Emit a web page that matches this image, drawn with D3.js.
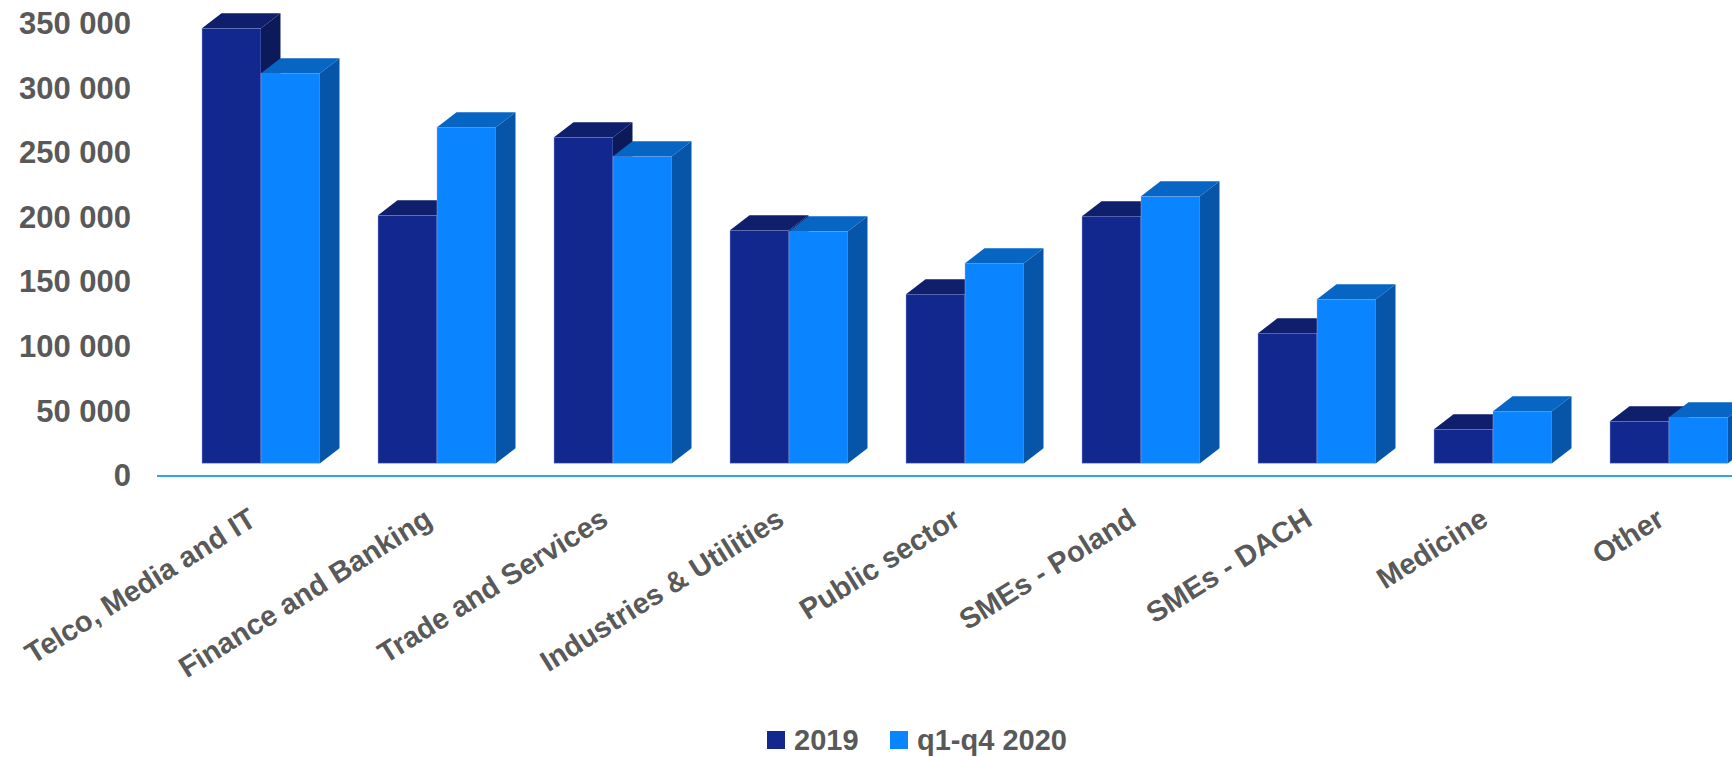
<!DOCTYPE html>
<html>
<head>
<meta charset="utf-8">
<script src="https://cdn.jsdelivr.net/npm/d3@7"></script>
<style>
  html, body { margin: 0; padding: 0; background: #ffffff; }
  svg { display: block; }
  text { font-family: "Liberation Sans", Arial, sans-serif; font-weight: bold; fill: #595959; }
</style>
</head>
<body>
<svg id="chart" width="1732" height="757"></svg>
<script>
// Revenue by sector, in PLN thousand
const categories = [
  "Telco, Media and IT", "Finance and Banking", "Trade and Services",
  "Industries & Utilities", "Public sector", "SMEs - Poland",
  "SMEs - DACH", "Medicine", "Other"
];
const seriesNames = ["2019", "q1-q4 2020"];
const values2019 = [336800, 192000, 252400, 180400, 130900, 191300, 100700, 26300, 32500];
const values2020 = [302000, 260200, 237700, 179600, 154900, 206700, 127000, 40300, 35600];
const yTicks = [0, 50000, 100000, 150000, 200000, 250000, 300000, 350000];

const faceColors = {
  "2019":       { front: "#13288e", top: "#0f1f6b", side: "#0c1a5a" },
  "q1-q4 2020": { front: "#0a84ff", top: "#0766c4", side: "#0655a8" }
};

const svg = d3.select("#chart");

// Scales
const y = d3.scaleLinear().domain([0, 350000]).range([475, 23]);
const x0 = d3.scaleBand().domain(categories).range([202, 1728]).paddingInner(58 / 176).paddingOuter(0);
const x1 = d3.scaleBand().domain(seriesNames).range([0, x0.bandwidth()]).padding(0);

// 3D extrusion of each column
const depthX = 19.5, depthY = 15;
const baseShift = 11.7;           // columns stand on the front edge of the floor

const fmt = d3.formatLocale({ decimal: ",", thousands: " ", grouping: [3], currency: ["", ""] }).format(",d");

// Value axis labels
svg.append("g")
  .selectAll("text")
  .data(yTicks)
  .join("text")
  .attr("x", 131)
  .attr("y", d => y(d))
  .attr("dy", "0.36em")
  .attr("text-anchor", "end")
  .style("font-size", "31px")
  .text(d => fmt(d));

// Columns
const rows = categories.map((c, i) => ({ cat: c, vals: [values2019[i], values2020[i]] }));
const groups = svg.append("g").selectAll("g")
  .data(rows)
  .join("g")
  .attr("transform", d => `translate(${x0(d.cat)},0)`);

groups.each(function (row) {
  const g = d3.select(this);
  seriesNames.forEach((s, k) => {
    const v = row.vals[k];
    const xl = x1(s), w = x1.bandwidth();
    const yb = y(0) - baseShift;
    const yt = y(v) - baseShift;
    const c = faceColors[s];
    const bar = g.append("g");
    // front face
    bar.append("rect")
      .attr("x", xl).attr("y", yt)
      .attr("width", w).attr("height", yb - yt)
      .attr("fill", c.front)
      .attr("stroke", "rgba(160,180,235,0.55)").attr("stroke-width", 0.8);
    // top face
    bar.append("path")
      .attr("d", `M${xl},${yt} L${xl + depthX},${yt - depthY} L${xl + w + depthX},${yt - depthY} L${xl + w},${yt} Z`)
      .attr("fill", c.top);
    // side face
    bar.append("path")
      .attr("d", `M${xl + w},${yt} L${xl + w + depthX},${yt - depthY} L${xl + w + depthX},${yb - depthY} L${xl + w},${yb} Z`)
      .attr("fill", c.side);
  });
});

// Category axis line
svg.append("line")
  .attr("x1", 157).attr("x2", 1732)
  .attr("y1", y(0) + 1).attr("y2", y(0) + 1)
  .attr("stroke", "#29a8e0").attr("stroke-width", 2.2);

// Category labels, rotated
svg.append("g")
  .selectAll("text")
  .data(categories)
  .join("text")
  .attr("text-anchor", "end")
  .style("font-size", "29px")
  .attr("transform", d => `translate(${x0(d) + x0.bandwidth() / 2 - 3},524) rotate(-32)`)
  .text(d => d);

// Legend
const legendItems = [
  { name: seriesNames[0], x: 767 },
  { name: seriesNames[1], x: 890 }
];
const legend = svg.append("g");
legendItems.forEach(it => {
  legend.append("rect")
    .attr("x", it.x).attr("y", 731)
    .attr("width", 18).attr("height", 18)
    .attr("fill", faceColors[it.name].front);
  legend.append("text")
    .attr("x", it.x + 27).attr("y", 750)
    .style("font-size", "29px")
    .text(it.name);
});
</script>
</body>
</html>
